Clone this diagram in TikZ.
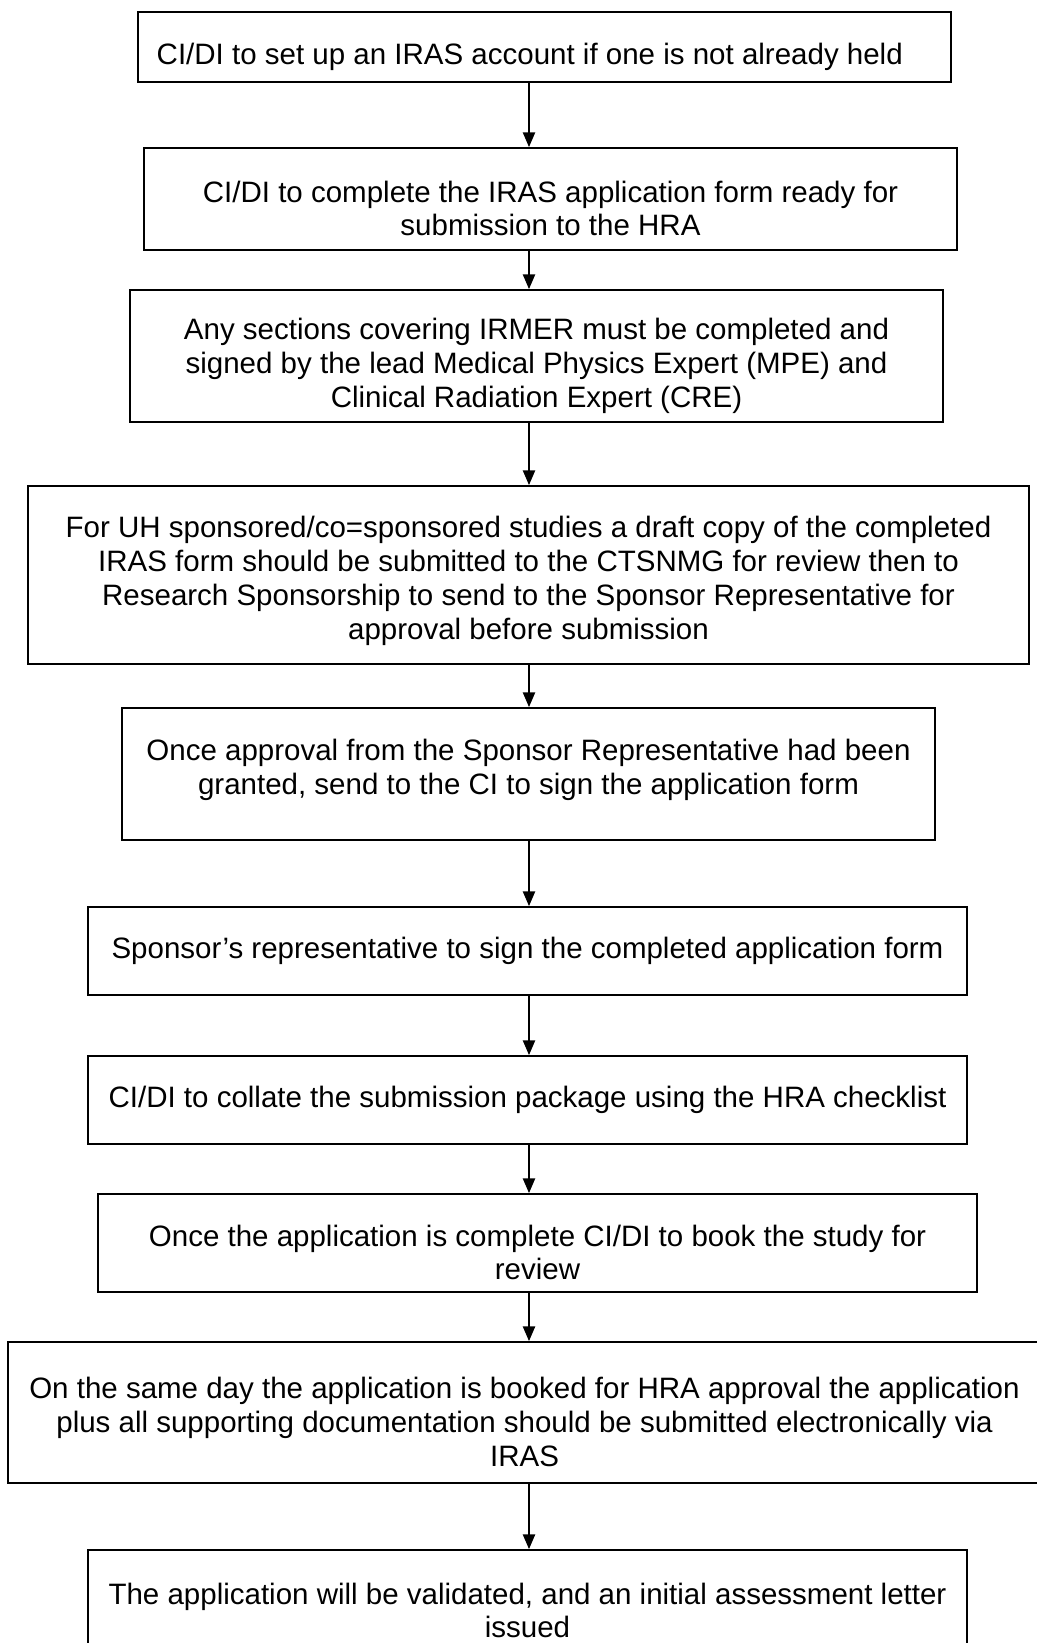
\documentclass[tikz,border=0pt]{standalone}
\usepackage{fontspec}
\setmainfont{Liberation Sans}
\usetikzlibrary{arrows.meta}

% extra room above the first line of a box
\newcommand{\padtop}[1]{\rule{0pt}{#1}}

\begin{document}
\begin{tikzpicture}[
    x=0.4068pt, y=-0.4068pt,
    stepbox/.style 2 args={rectangle, draw, line width=0.75pt, minimum width=#1*0.4068pt, minimum height=#2*0.4068pt, inner sep=0pt, align=center, font=\fontsize{12}{13.8}\selectfont},
    arrow/.style={-{Triangle[length=6pt, width=5pt]}, line width=0.6pt}
]

% Page
\path[use as bounding box, fill=white] (0,0) rectangle (1037,1643);
\coordinate (spine) at (529,0);

% Steps
\node[stepbox={813}{70}] (account) at (544.5,47) {\padtop{16.4pt}CI/DI to set up an IRAS account if one is not already held\hspace*{12pt}};
\node[stepbox={813}{102}] (form) at (550.5,199) {\padtop{16.4pt}CI/DI to complete the IRAS application form ready for\\submission to the HRA};
\node[stepbox={813}{132}] (irmer) at (536.5,356) {\padtop{16.4pt}Any sections covering IRMER must be completed and\\signed by the lead Medical Physics Expert (MPE) and\\Clinical Radiation Expert (CRE)};
\node[stepbox={1001}{178}] (draft) at (528.5,575) {\padtop{13.7pt}For UH sponsored/co=sponsored studies a draft copy of the completed\\IRAS form should be submitted to the CTSNMG for review then to\\Research Sponsorship to send to the Sponsor Representative for\\approval before submission};
\node[stepbox={813}{132}, text depth=6pt] (cisign) at (528.5,774) {Once approval from the Sponsor Representative had been\\granted, send to the CI to sign the application form};
\node[stepbox={879}{88}] (spsign) at (527.5,951) {Sponsor’s representative to sign the completed application form};
\node[stepbox={879}{88}] (collate) at (527.5,1100) {CI/DI to collate the submission package using the HRA checklist};
\node[stepbox={879}{98}] (book) at (537.5,1243) {\padtop{16.4pt}Once the application is complete CI/DI to book the study for\\review};
\node[stepbox={1033}{141}] (submit) at (524.5,1412.5) {\padtop{16.4pt}On the same day the application is booked for HRA approval the application\\plus all supporting documentation should be submitted electronically via\\IRAS};
\node[stepbox={879}{102}] (valid) at (527.5,1601) {\padtop{16.4pt}The application will be validated, and an initial assessment letter\\issued};

% Arrows
\draw[arrow] (account.south -| spine) -- (form.north -| spine);
\draw[arrow] (form.south -| spine) -- (irmer.north -| spine);
\draw[arrow] (irmer.south -| spine) -- (draft.north -| spine);
\draw[arrow] (draft.south -| spine) -- (cisign.north -| spine);
\draw[arrow] (cisign.south -| spine) -- (spsign.north -| spine);
\draw[arrow] (spsign.south -| spine) -- (collate.north -| spine);
\draw[arrow] (collate.south -| spine) -- (book.north -| spine);
\draw[arrow] (book.south -| spine) -- (submit.north -| spine);
\draw[arrow] (submit.south -| spine) -- (valid.north -| spine);

\end{tikzpicture}
\end{document}
